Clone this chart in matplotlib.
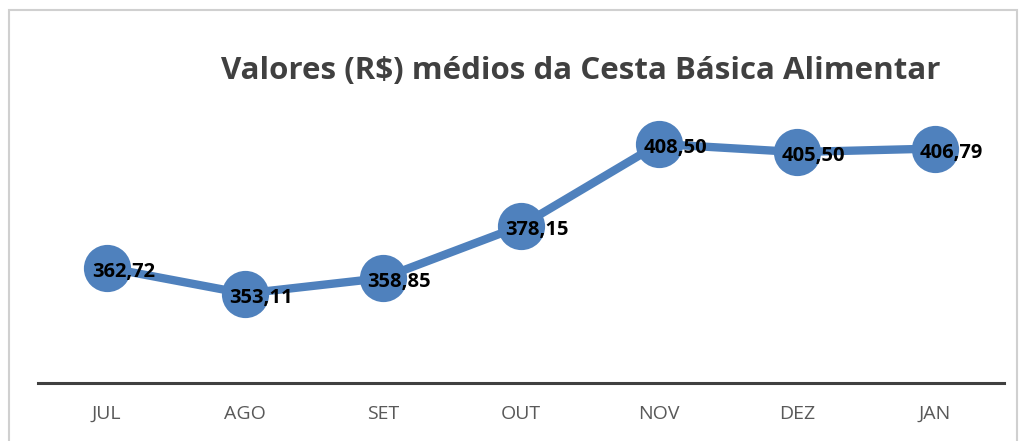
import matplotlib
matplotlib.use("Agg")
import matplotlib.pyplot as plt
from matplotlib.patches import Rectangle

# Dados da cesta básica (R$)
meses = ["JUL", "AGO", "SET", "OUT", "NOV", "DEZ", "JAN"]
valores = [362.72, 353.11, 358.85, 378.15, 408.50, 405.50, 406.79]

plt.rcParams["font.family"] = ["Open Sans", "DejaVu Sans"]

fig = plt.figure(figsize=(10.2, 4.41), dpi=100)
ax = fig.add_axes([0.037, 0.1315, 0.947, 0.6125])

azul = "#4F81BD"
x = list(range(len(meses)))
ax.plot(x, valores, "-o", color=azul, linewidth=6, markersize=34,
        markeredgewidth=0, solid_capstyle="round")

for xi, v in zip(x, valores):
    rotulo = f"{v:.2f}".replace(".", ",")
    ax.annotate(rotulo, (xi, v), xytext=(12, -3), textcoords="offset points",
                ha="center", va="center", fontsize=14.5, fontweight="bold",
                color="black")

ax.set_xlim(-0.5, len(meses) - 0.5)
ax.set_ylim(320, 420)
ax.set_xticks(x)
ax.set_xticklabels(meses, fontsize=14, color="#595959")
ax.tick_params(axis="x", length=0, pad=16)
ax.set_yticks([])
for lado in ["left", "right", "top"]:
    ax.spines[lado].set_visible(False)
ax.spines["bottom"].set_color("#404040")
ax.spines["bottom"].set_linewidth(2.2)

fig.text(0.569, 0.838, "Valores (R$) médios da Cesta Básica Alimentar",
         ha="center", va="center", fontsize=22.5, fontweight="bold",
         color="#404040")

# moldura do gráfico
fig.patches.append(Rectangle((9 / 1020, -0.05), 1008 / 1020, 1.05 - 10 / 441,
                             transform=fig.transFigure, fill=False,
                             edgecolor="#d0d0d0", linewidth=1.5))

plt.savefig("out.png", dpi=100)
